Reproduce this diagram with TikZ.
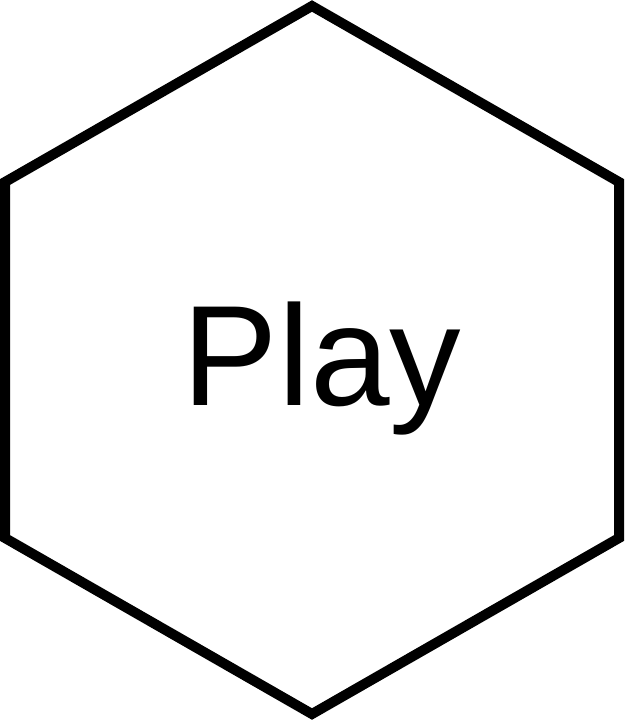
\documentclass[tikz,border=0pt]{standalone}
\usepackage{fontspec}
\setmainfont{Liberation Sans}
\begin{document}
\begin{tikzpicture}[x=1pt,y=-1pt,
  hexline/.style={draw=black,line width=10pt,line join=miter,fill=white},
  label/.style={inner sep=0pt,font=\fontsize{143}{150}\selectfont}]
\useasboundingbox (0,0) rectangle (624,720);
\draw[hexline] (312,6) -- (619,182) -- (619,538) -- (312,714) -- (5,538) -- (5,182) -- cycle;
\node[label,anchor=base] (play) at (322,405) {Play};
\end{tikzpicture}
\end{document}
